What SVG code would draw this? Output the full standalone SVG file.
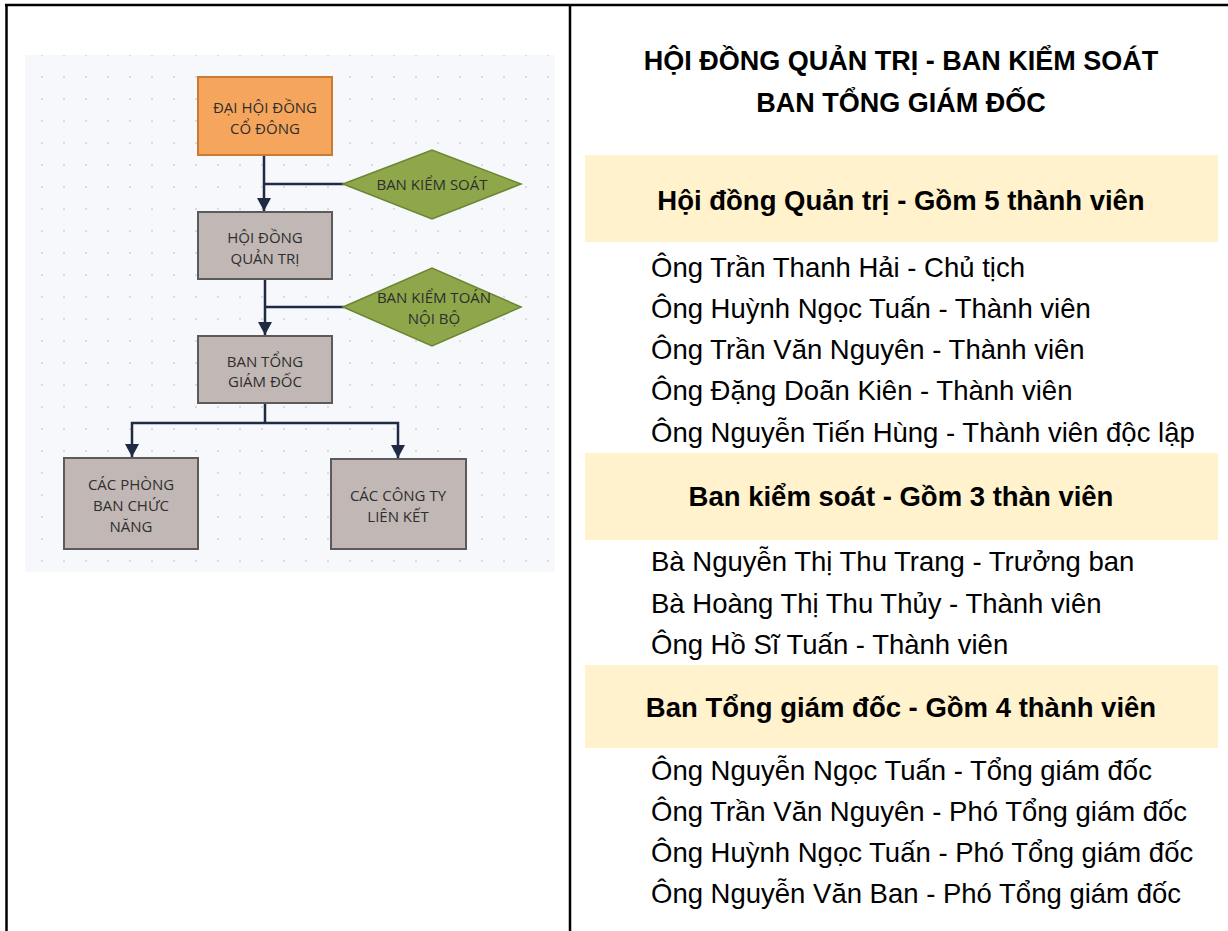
<svg xmlns="http://www.w3.org/2000/svg" width="1228" height="931" viewBox="0 0 1228 931">
<style>
.frame{stroke:#000;stroke-width:2.5;fill:none}
.box{fill:#c1b8b5;stroke:#5b5b5b;stroke-width:2}
.orange{fill:#f6a65c;stroke:#c97a33;stroke-width:2}
.dia{fill:#8fa74b;stroke:#6b8630;stroke-width:1.5}
.lbl{font-family:"Open Sans","Noto Sans",sans-serif;font-size:15px;fill:#2e2e2e;text-anchor:middle}
.conn{stroke:#1f2b45;stroke-width:2.5;fill:none}
.title{font-family:"Liberation Sans",Arial,sans-serif;font-size:27px;font-weight:bold;fill:#000;text-anchor:middle}
.hdr{font-family:"Liberation Sans",Arial,sans-serif;font-size:27.5px;font-weight:bold;fill:#000;text-anchor:middle}
.body{font-family:"Liberation Sans",Arial,sans-serif;font-size:27.5px;fill:#000}
.band{fill:#fff2cc}
</style>
<defs>
<pattern id="dots" patternUnits="userSpaceOnUse" x="31" y="66" width="22" height="22">
<circle cx="11" cy="11" r="1.1" fill="#d3d6de"/>
</pattern>
<marker id="arr" markerUnits="userSpaceOnUse" markerWidth="16" markerHeight="14" refX="13" refY="7" orient="auto">
<path d="M0,0 L13,7 L0,14 Z" fill="#1f2b45"/>
</marker>
</defs>
<rect width="1228" height="931" fill="#fff"/>
<g id="frame">
<line class="frame" x1="5" y1="5" x2="1228" y2="5"/>
<line class="frame" x1="6.5" y1="5" x2="6.5" y2="931"/>
<line class="frame" x1="570" y1="5" x2="570" y2="931"/>
</g>
<g id="canvas">
<rect x="25" y="55" width="530" height="517" fill="#f7f8fc"/>
<rect x="25" y="55" width="530" height="517" fill="url(#dots)"/>
</g>
<g id="connectors">
<line class="conn" x1="264" y1="156" x2="264" y2="211" marker-end="url(#arr)"/>
<line class="conn" x1="344" y1="184" x2="264" y2="184"/>
<line class="conn" x1="265" y1="279" x2="265" y2="335" marker-end="url(#arr)"/>
<line class="conn" x1="344" y1="307" x2="265" y2="307"/>
<line class="conn" x1="265" y1="403" x2="265" y2="423"/>
<polyline class="conn" points="265,423 132,423 132,457" marker-end="url(#arr)"/>
<polyline class="conn" points="265,423 398,423 398,458" marker-end="url(#arr)"/>
</g>
<g id="n-dhdcd">
<rect class="orange" x="198" y="77" width="134" height="78"/>
<text class="lbl" x="265" y="113">ĐẠI HỘI ĐỒNG</text>
<text class="lbl" x="265" y="134">CỔ ĐÔNG</text>
</g>
<g id="n-bks">
<polygon class="dia" points="343,184 432,150 521,184 432,219"/>
<text class="lbl" x="432" y="190">BAN KIỂM SOÁT</text>
</g>
<g id="n-hdqt">
<rect class="box" x="198" y="212" width="134" height="67"/>
<text class="lbl" x="265" y="243">HỘI ĐỒNG</text>
<text class="lbl" x="265" y="264">QUẢN TRỊ</text>
</g>
<g id="n-bktnb">
<polygon class="dia" points="343,307 432,268 521,307 432,346"/>
<text class="lbl" x="434" y="303">BAN KIỂM TOÁN</text>
<text class="lbl" x="434" y="324">NỘI BỘ</text>
</g>
<g id="n-btgd">
<rect class="box" x="198" y="336" width="134" height="67"/>
<text class="lbl" x="265" y="367">BAN TỔNG</text>
<text class="lbl" x="265" y="387">GIÁM ĐỐC</text>
</g>
<g id="n-pb">
<rect class="box" x="64" y="458" width="134" height="91"/>
<text class="lbl" x="131" y="490">CÁC PHÒNG</text>
<text class="lbl" x="131" y="511">BAN CHỨC</text>
<text class="lbl" x="131" y="532">NĂNG</text>
</g>
<g id="n-ct">
<rect class="box" x="331" y="459" width="135" height="90"/>
<text class="lbl" x="398" y="501">CÁC CÔNG TY</text>
<text class="lbl" x="398" y="522">LIÊN KẾT</text>
</g>
<g id="info">
<text class="title" x="901" y="70">HỘI ĐỒNG QUẢN TRỊ - BAN KIỂM SOÁT</text>
<text class="title" x="901" y="112">BAN TỔNG GIÁM ĐỐC</text>
<rect class="band" x="585" y="155" width="633" height="87"/>
<text class="hdr" x="901" y="210">Hội đồng Quản trị - Gồm 5 thành viên</text>
<text class="body" x="651" y="277">Ông Trần Thanh Hải - Chủ tịch</text>
<text class="body" x="651" y="318">Ông Huỳnh Ngọc Tuấn - Thành viên</text>
<text class="body" x="651" y="359">Ông Trần Văn Nguyên - Thành viên</text>
<text class="body" x="651" y="400">Ông Đặng Doãn Kiên - Thành viên</text>
<text class="body" x="651" y="442">Ông Nguyễn Tiến Hùng - Thành viên độc lập</text>
<rect class="band" x="585" y="453" width="633" height="87"/>
<text class="hdr" x="901" y="506">Ban kiểm soát - Gồm 3 thàn viên</text>
<text class="body" x="651" y="571">Bà Nguyễn Thị Thu Trang - Trưởng ban</text>
<text class="body" x="651" y="613">Bà Hoàng Thị Thu Thủy - Thành viên</text>
<text class="body" x="651" y="654">Ông Hồ Sĩ Tuấn - Thành viên</text>
<rect class="band" x="585" y="665" width="633" height="83"/>
<text class="hdr" x="901" y="717">Ban Tổng giám đốc - Gồm 4 thành viên</text>
<text class="body" x="651" y="780">Ông Nguyễn Ngọc Tuấn - Tổng giám đốc</text>
<text class="body" x="651" y="821">Ông Trần Văn Nguyên - Phó Tổng giám đốc</text>
<text class="body" x="651" y="862">Ông Huỳnh Ngọc Tuấn - Phó Tổng giám đốc</text>
<text class="body" x="651" y="903">Ông Nguyễn Văn Ban - Phó Tổng giám đốc</text>
</g>
</svg>
